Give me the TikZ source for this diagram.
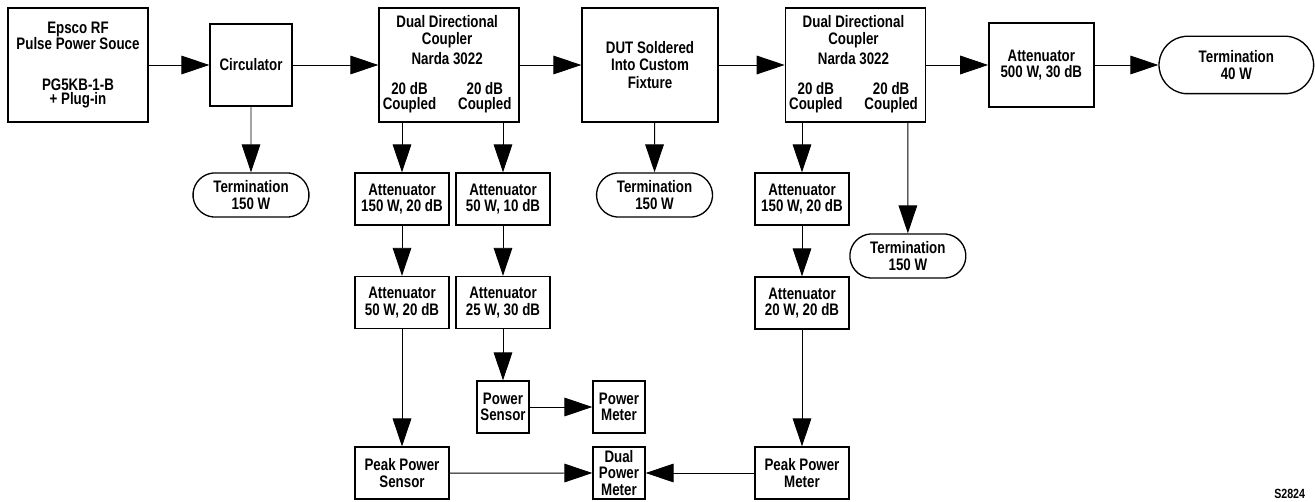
\documentclass[tikz,border=0pt]{standalone}
\usepackage{fontspec}
\setmainfont{Liberation Sans}[FakeStretch=0.8]
\usepackage{tikz}
\usetikzlibrary{arrows.meta,shapes.misc}
\usetikzlibrary{positioning}

\begin{document}
\begin{tikzpicture}[->,>={Triangle[length=21pt,width=14pt]},line width=0.7pt,
    font=\fontsize{12.5}{12.5}\selectfont\bfseries,
    block/.style={draw,rectangle,line width=1pt,align=center,inner sep=0pt,
      minimum width=70.5pt,minimum height=39pt},
    big/.style={block,minimum width=105pt,minimum height=85.5pt},
    small/.style={block,minimum width=39pt},
    term/.style={draw,rounded rectangle,rounded rectangle arc length=170,
      line width=1pt,align=center,inner sep=0pt,
      minimum width=87pt,minimum height=33pt}]
    \useasboundingbox (0,0) rectangle (986.25pt,-376.5pt);
    
    % MAIN LINE
    \node[big] (SOURCE) at (58.5pt,-48.75pt)
    {
      Epsco RF\\[-0.5pt]
      Pulse Power Souce\\[18.25pt]
      PG5KB-1-B\\[-1.5pt]
      + Plug-in
    };
    \node[block,
      minimum width=61.5pt,minimum height=61.5pt,
      node distance=129.75pt,
    right of=SOURCE] (CIRCULATOR)
    {Circulator};
    \node[big,
      node distance=148.5pt,
    right of=CIRCULATOR] (COUPLER_1)
    {
      \begin{tabular}{@{}c@{\hspace{16.5pt}}c@{}}
        \multicolumn{2}{c}{Dual Directional} \\[0pt]
        \multicolumn{2}{c}{Coupler}          \\[2pt]
        \multicolumn{2}{c}{Narda 3022}       \\[10pt]
        20 dB   & 20 dB                      \\[-1.5pt]
        Coupled & Coupled
      \end{tabular}
    };
    \node[big,
      minimum width=102pt,
      node distance=150.75pt,
    right of=COUPLER_1] (DUT)
    {
      DUT Soldered\\[0.5pt]
      Into Custom\\[0.5pt]
      Fixture
    };
    \node[big,
      node distance=154pt,
    right of=DUT] (COUPLER_2)
    {
      \begin{tabular}{@{}c@{\hspace{16.5pt}}c@{}}
        \multicolumn{2}{c}{Dual Directional} \\[0pt]
        \multicolumn{2}{c}{Coupler}          \\[2pt]
        \multicolumn{2}{c}{Narda 3022}       \\[10pt]
        20 dB   & 20 dB                      \\[-1.5pt]
        Coupled & Coupled
      \end{tabular}
    };
    \node[block,
      minimum width=78.75pt,minimum height=63pt,
      node distance=139.5pt,
    right of=COUPLER_2] (ATTEN_7)
    {
      Attenuator\\
      500 W, 30 dB
    };
    \node[term,
      minimum width=116pt,minimum height=43pt,
      node distance=146.25pt,
    right of=ATTEN_7] (TERM_4)
    {
      Termination\\
      40 W
    };
    
    % TERMINATIONS
    \node[term,
      node distance=97.5pt,
    below of=CIRCULATOR] (TERM_1)
    {
      Termination\\
      150 W
    };
    \node[term,
      node distance=97.5pt,
      below of=DUT,
    xshift=3.4pt] (TERM_2)
    {
      Termination\\
      150 W
    };
    \node[term,
      node distance=143.25pt,
      below of=COUPLER_2,
    xshift=39.4pt] (TERM_3)
    {
      Termination\\
      150 W
    };
    
    % FIRST COUPLER BRANCHES
    \node[block,
      node distance=100.5pt,
      below of=COUPLER_1,
    xshift=-35.25pt] (ATTEN_1)
    {
      Attenuator\\
      150 W, 20 dB
    };
    \node[block,
      node distance=75.75pt,
    right of=ATTEN_1] (ATTEN_2)
    {
      Attenuator\\
      50 W, 10 dB
    };
    \node[block,
      node distance=77.6pt,
    below of=ATTEN_1] (ATTEN_3)
    {
      Attenuator\\
      50 W, 20 dB
    };
    \node[block,
      node distance=75.75pt,
    right of=ATTEN_3] (ATTEN_4)
    {
      Attenuator\\
      25 W, 30 dB
    };
    \node[small,
      node distance=78.4pt,
    below of=ATTEN_4] (POWER_SENSOR)
    {
      Power\\
      Sensor
    };
    \node[small,
      node distance=87pt,
    right of=POWER_SENSOR] (POWER_METER)
    {
      Power\\
      Meter
    };
    \node[block,
      node distance=128pt,
    below of=ATTEN_3] (PEAK_SENSOR)
    {
      Peak Power\\
      Sensor
    };
    \node[small,
      node distance=49.5pt,
    below of=POWER_METER] (DUAL_METER)
    {
      Dual\\
      Power\\
      Meter
    };
    
    % SECOND COUPLER BRANCH
    \node[block,
      node distance=100.5pt,
      below of=COUPLER_2,
    xshift=-40pt] (ATTEN_5)
    {
      Attenuator\\
      150 W, 20 dB
    };
    \node[block,
      node distance=78pt,
    below of=ATTEN_5] (ATTEN_6)
    {
      Attenuator\\
      20 W, 20 dB
    };
    \node[block,
      node distance=127.5pt,
    below of=ATTEN_6] (PEAK_METER)
    {
      Peak Power\\
      Meter
    };
    
    \node[anchor=east,font=\fontsize{10}{10}\selectfont\bfseries] (FIG_ID)
    at (982.5pt,-370.5pt) {S2824};
    
    % LINES
    \begin{scope}
      \path
      (SOURCE) edge (CIRCULATOR)
      (CIRCULATOR) edge (COUPLER_1)
      (COUPLER_1) edge (DUT)
      (DUT) edge (COUPLER_2)
      (COUPLER_2) edge (ATTEN_7)
      (ATTEN_7) edge (TERM_4)
      (CIRCULATOR) edge (TERM_1)
      (DUT.south -| TERM_2.north) edge (TERM_2)
      (COUPLER_1.south -| ATTEN_1.north) edge (ATTEN_1)
      (COUPLER_1.south -| ATTEN_2.north) edge (ATTEN_2)
      (ATTEN_1) edge (ATTEN_3)
      (ATTEN_2) edge (ATTEN_4)
      (ATTEN_3) edge (PEAK_SENSOR)
      (ATTEN_4) edge (POWER_SENSOR)
      (POWER_SENSOR) edge (POWER_METER)
      (PEAK_SENSOR) edge (DUAL_METER)
      (PEAK_METER) edge (DUAL_METER)
      (COUPLER_2.south -| ATTEN_5.north) edge (ATTEN_5)
      (COUPLER_2.south -| TERM_3.north) edge (TERM_3)
      (ATTEN_5) edge (ATTEN_6)
      (ATTEN_6) edge (PEAK_METER)
      ;
    \end{scope}
  \end{tikzpicture}
\end{document}
